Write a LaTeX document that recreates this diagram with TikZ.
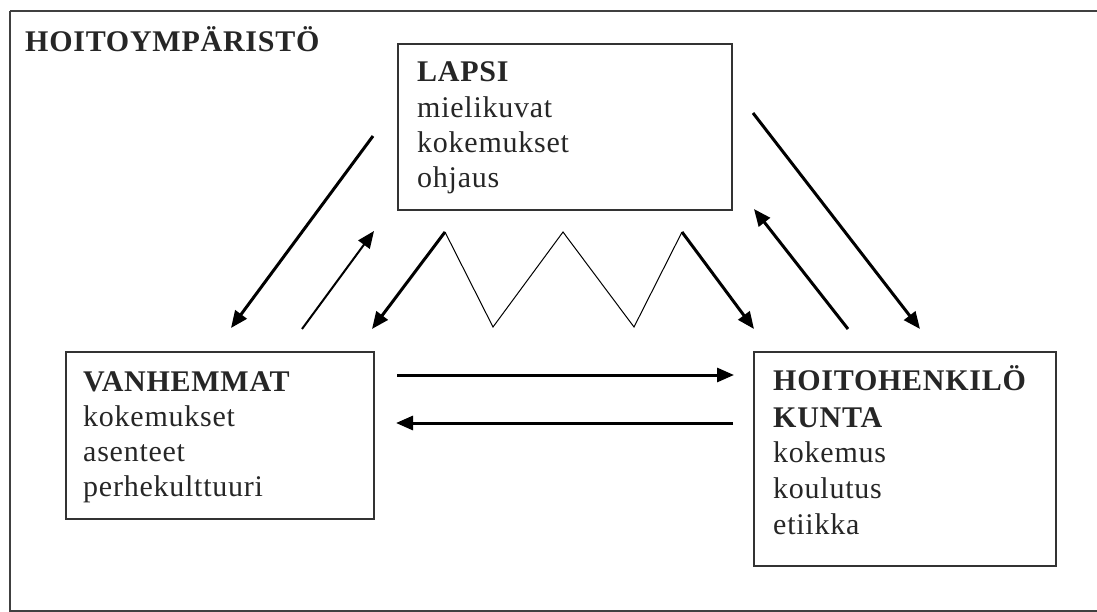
\documentclass[tikz,border=0pt]{standalone}
\usepackage{fontspec}
\setmainfont[LetterSpace=2.5]{Liberation Serif}
\usetikzlibrary{arrows.meta}
\begin{document}
\begin{tikzpicture}[x=1pt,y=-1pt,
  frame/.style={draw=black!75, line width=2pt},
  box/.style={draw=black!80, line width=2pt, rectangle, inner sep=0pt, anchor=north west},
  txt/.style={anchor=base west, inner sep=0pt, font=\fontsize{30}{35}\selectfont, text=black!85},
  head/.style={txt, font=\fontsize{30}{35}\selectfont\bfseries},
  tip/.style={-{Triangle[length=17pt,width=14pt]}},
  thick arrow/.style={tip, line width=3pt},
  thin arrow/.style={tip, line width=2pt},
  zig/.style={line width=1pt}
]
\useasboundingbox (0,0) rectangle (1097,612);
% outer environment frame
\draw[frame] (10,11) -- (1100,11) (10,11) -- (10,611) -- (1100,611);
\node[head] (title) at (25,52) {HOITOYMPÄRISTÖ};

% the three actors
\node[box, minimum width=334pt, minimum height=166pt] (lapsi) at (397,43) {};
\node[box, minimum width=308pt, minimum height=167pt] (vanhemmat) at (65,351) {};
\node[box, minimum width=302pt, minimum height=214pt] (hoito) at (753,351) {};

\node[head] (lapsi-0) at (417,82) {LAPSI};
\foreach \t [count=\i] in {mielikuvat,kokemukset,ohjaus}
  \node[txt] (lapsi-\i) at (417,{82+35.3*\i}) {\t};

\node[head] (vanhemmat-0) at (83,391) {VANHEMMAT};
\foreach \t [count=\i] in {kokemukset,asenteet,perhekulttuuri}
  \node[txt] (vanhemmat-\i) at (83,{391+35.3*\i}) {\t};

\node[head] (hoito-0) at (773,390) {HOITOHENKILÖ};
\node[head] (hoito-1) at (773,427) {KUNTA};
\foreach \t [count=\i] in {kokemus,koulutus,etiikka}
  \node[txt] (hoito-t\i) at (773,{427+35.8*\i}) {\t};

% connector end points
\coordinate (la1) at (373,136);  \coordinate (la2) at (231,328);
\coordinate (lb1) at (302,329);  \coordinate (lb2) at (374,231);
\coordinate (ra1) at (753,113);  \coordinate (ra2) at (920,329);
\coordinate (rb1) at (848,329);  \coordinate (rb2) at (754,209);
\coordinate (z0) at (372,329); \coordinate (z1) at (445,232);
\coordinate (z2) at (493,327); \coordinate (z3) at (563,232);
\coordinate (z4) at (634,327); \coordinate (z5) at (682,232);
\coordinate (z6) at (754,329);
\coordinate (h1) at (397,375); \coordinate (h2) at (734,375);
\coordinate (h3) at (733,423); \coordinate (h4) at (396,423);

% child <-> parents
\draw[thick arrow] (la1) -- (la2);
\draw[thin arrow] (lb1) -- (lb2);
% child <-> staff
\draw[thick arrow] (ra1) -- (ra2);
\draw[thick arrow] (rb1) -- (rb2);
% zig-zag interaction under the child
\draw[thick arrow] (z1) -- (z0);
\draw[zig, line join=miter] (z1) -- (z2) -- (z3) -- (z4) -- (z5);
\draw[thick arrow] (z5) -- (z6);
% parents <-> staff
\draw[thick arrow] (h1) -- (h2);
\draw[thick arrow] (h3) -- (h4);
\end{tikzpicture}
\end{document}
